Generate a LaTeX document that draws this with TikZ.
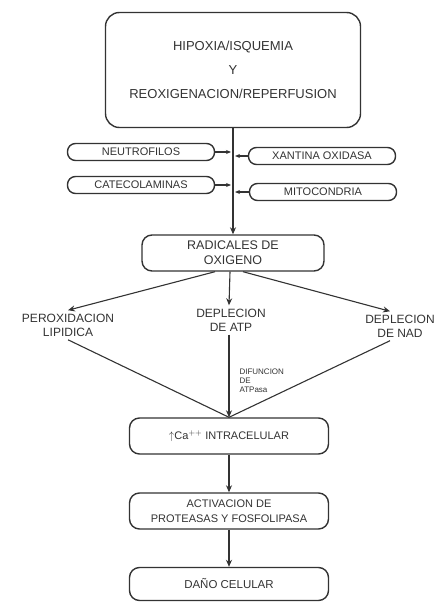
\documentclass[tikz,border=0pt]{standalone}
\usepackage{fontspec}
\setmainfont{Liberation Sans}
\usetikzlibrary{arrows.meta}
\definecolor{ink}{HTML}{333333}
\begin{document}
\begin{tikzpicture}[
  x=1pt, y=-1pt, color=ink,
  box/.style={draw, line width=1.4pt, rounded corners=10pt, align=center, font=\fontsize{11}{15}\selectfont, minimum width=199pt, minimum height=36pt},
  pill/.style={draw, line width=1.4pt, rounded corners=8pt, font=\fontsize{11}{12}\selectfont, minimum width=147pt, minimum height=17pt, inner sep=1pt},
  effect/.style={align=center, font=\fontsize{12}{14}\selectfont},
  arr/.style={-{Stealth[length=7pt,width=6pt]}, line width=1.1pt},
  small arr/.style={-{Stealth[length=5pt,width=4pt]}, line width=1.1pt}
]
\useasboundingbox (0,0) rectangle (440,604);

\node[box, rounded corners=14pt, minimum width=255pt, minimum height=115pt, font=\fontsize{13}{24}\selectfont] (hipoxia) at (233,70) {HIPOXIA/ISQUEMIA\\Y\\REOXIGENACION/REPERFUSION};
\node[pill] (neutro) at (141,152) {NEUTROFILOS};
\node[pill] (xantina) at (322,156) {XANTINA OXIDASA};
\node[pill] (catecol) at (141,185) {CATECOLAMINAS};
\node[pill] (mito) at (323,192) {MITOCONDRIA};
\node[box, minimum width=182pt, font=\fontsize{12.5}{15}\selectfont] (radicales) at (233,253) {RADICALES DE\\OXIGENO};
\node[effect] (perox) at (68,325) {PEROXIDACION\\LIPIDICA};
\node[effect] (atp) at (231,320) {DEPLECION\\DE ATP};
\node[effect] (nad) at (400,326) {DEPLECION\\DE NAD};
\node[align=left, anchor=west, font=\fontsize{8}{9}\selectfont] (difun) at (236,381) {DIFUNCION\\DE\\ATPasa};
\node[box] (ca) at (229,436) {$\uparrow$Ca$^{++}$ INTRACELULAR};
\node[box] (activ) at (229,511) {ACTIVACION DE\\PROTEASAS Y FOSFOLIPASA};
\node[box, minimum height=33pt, font=\fontsize{11.5}{15}\selectfont] (dano) at (229,584) {DAÑO CELULAR};

\draw[arr] (hipoxia) -- (radicales);
\draw[small arr] (neutro.east) -- ([xshift=-2pt]neutro.east -| hipoxia.south);
\draw[small arr] (xantina.west) -- ([xshift=2pt]xantina.west -| hipoxia.south);
\draw[small arr] (catecol.east) -- ([xshift=-2pt]catecol.east -| hipoxia.south);
\draw[small arr] (mito.west) -- ([xshift=2pt]mito.west -| hipoxia.south);

\draw[arr] ([xshift=-18pt]radicales.south) -- (perox.north);
\draw[arr] ([xshift=-3pt]radicales.south) -- ([xshift=-2pt]atp.north);
\draw[arr] ([xshift=10pt]radicales.south) -- ([xshift=-10pt]nad.north);

\draw[line width=1.1pt] (perox.south) -- (ca.north);
\draw[arr] ([xshift=-2pt]atp.south) -- (ca.north);
\draw[line width=1.1pt] ([xshift=-10pt]nad.south) -- (ca.north);

\draw[arr] (ca) -- (activ);
\draw[arr] (activ) -- (dano);
\end{tikzpicture}
\end{document}
